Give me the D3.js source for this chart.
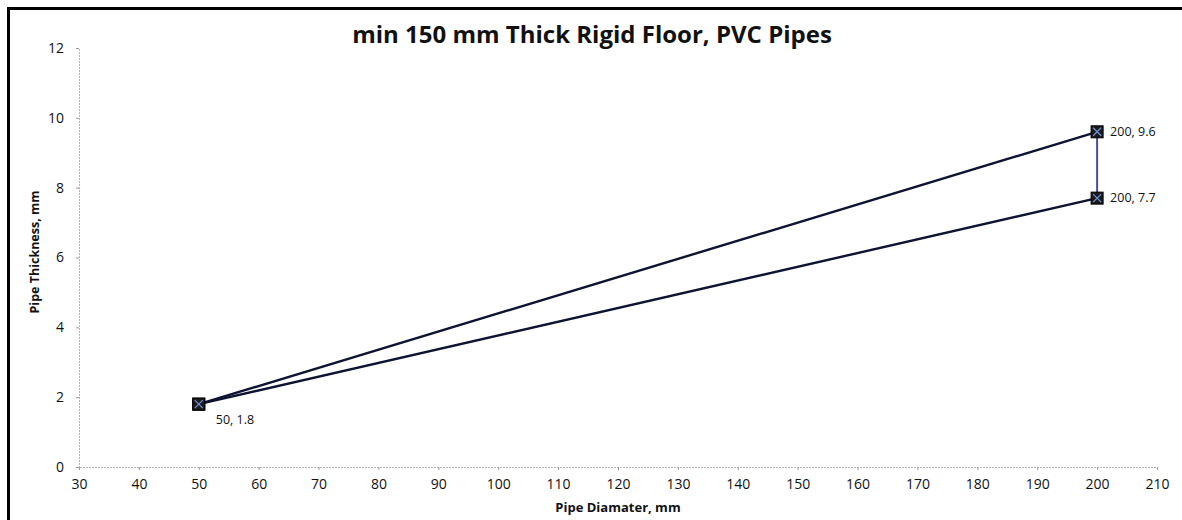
<!DOCTYPE html>
<html><head><meta charset="utf-8">
<script src="https://cdn.jsdelivr.net/npm/d3@7"></script>
<style>body{margin:0;background:#fff;} text{font-family:"Open Sans",sans-serif;}</style>
</head><body>
<svg id="c" width="1182" height="520"></svg>
<script>
const title = "min 150 mm Thick Rigid Floor, PVC Pipes";
const xTitle = "Pipe Diamater, mm";
const yTitle = "Pipe Thickness, mm";
const xTicks = [30,40,50,60,70,80,90,100,110,120,130,140,150,160,170,180,190,200,210];
const yTicks = [0,2,4,6,8,10,12];
const series1 = [[50,1.8],[200,9.6]];
const series2 = [[50,1.8],[200,7.7]];
const connector = [[200,9.6],[200,7.7]];
const labels = [{x:50,y:1.8,t:"50, 1.8"},{x:200,y:9.6,t:"200, 9.6"},{x:200,y:7.7,t:"200, 7.7"}];

const svg = d3.select("#c");
const x = d3.scaleLinear().domain([30,210]).range([79,1157]);
const y = d3.scaleLinear().domain([0,12]).range([467,48]);

// border
svg.append("line").attr("x1",8).attr("x2",1182).attr("y1",8.5).attr("y2",8.5).attr("stroke","#000").attr("stroke-width",3);
svg.append("line").attr("x1",8.5).attr("x2",8.5).attr("y1",7).attr("y2",520).attr("stroke","#000").attr("stroke-width",3);

svg.append("text").attr("x",592).attr("y",43).attr("text-anchor","middle")
  .attr("font-size",24).attr("font-weight",700).attr("fill","#111").text(title);

// axes
const gx = svg.append("g").attr("transform",`translate(0,${y(0)})`)
  .call(d3.axisBottom(x).tickValues(xTicks).tickSize(3).tickPadding(9));
const gy = svg.append("g").attr("transform",`translate(${x(30)},0)`)
  .call(d3.axisLeft(y).tickValues(yTicks).tickSize(3).tickPadding(12));
[gx,gy].forEach(g=>{
  g.select(".domain").attr("stroke","#b5b5b5").attr("stroke-dasharray","2,1");
  g.selectAll(".tick line").attr("stroke","#999");
  g.selectAll(".tick text").attr("font-size",14).attr("fill","#111").attr("font-family","Open Sans");
});

svg.append("text").attr("x",618).attr("y",512).attr("text-anchor","middle")
  .attr("font-size",13).attr("font-weight",700).attr("fill","#111").text(xTitle);
svg.append("text").attr("transform","translate(39,252) rotate(-90)").attr("text-anchor","middle")
  .attr("font-size",12.5).attr("font-weight",700).attr("fill","#111").text(yTitle);

const line = d3.line().x(d=>x(d[0])).y(d=>y(d[1]));
svg.append("path").datum(connector).attr("d",line).attr("fill","none").attr("stroke","#4a4f8c").attr("stroke-width",2);
[series1,series2].forEach(s=>{
  svg.append("path").datum(s).attr("d",line).attr("fill","none").attr("stroke","#0d1330").attr("stroke-width",2.4);
});

const pts = [...series1,...series2];
const m = svg.append("g");
pts.forEach(p=>{
  const cx=x(p[0]), cy=y(p[1]);
  m.append("rect").attr("x",cx-6).attr("y",cy-6).attr("width",12).attr("height",12).attr("fill","#1a1a1a").attr("stroke","#000");
  m.append("path").attr("d",`M${cx-4},${cy-4}L${cx+4},${cy+4}M${cx-4},${cy+4}L${cx+4},${cy-4}`).attr("stroke","#6f8fd8").attr("stroke-width",1.3);
});

labels.forEach(l=>{
  const lx = l.x===50 ? x(l.x)+17 : x(l.x)+13;
  const ly = l.x===50 ? y(l.y)+20 : y(l.y)+4;
  svg.append("text").attr("x",lx).attr("y",ly).attr("font-size",12.5).attr("fill","#111").text(l.t);
});
</script>
</body></html>
